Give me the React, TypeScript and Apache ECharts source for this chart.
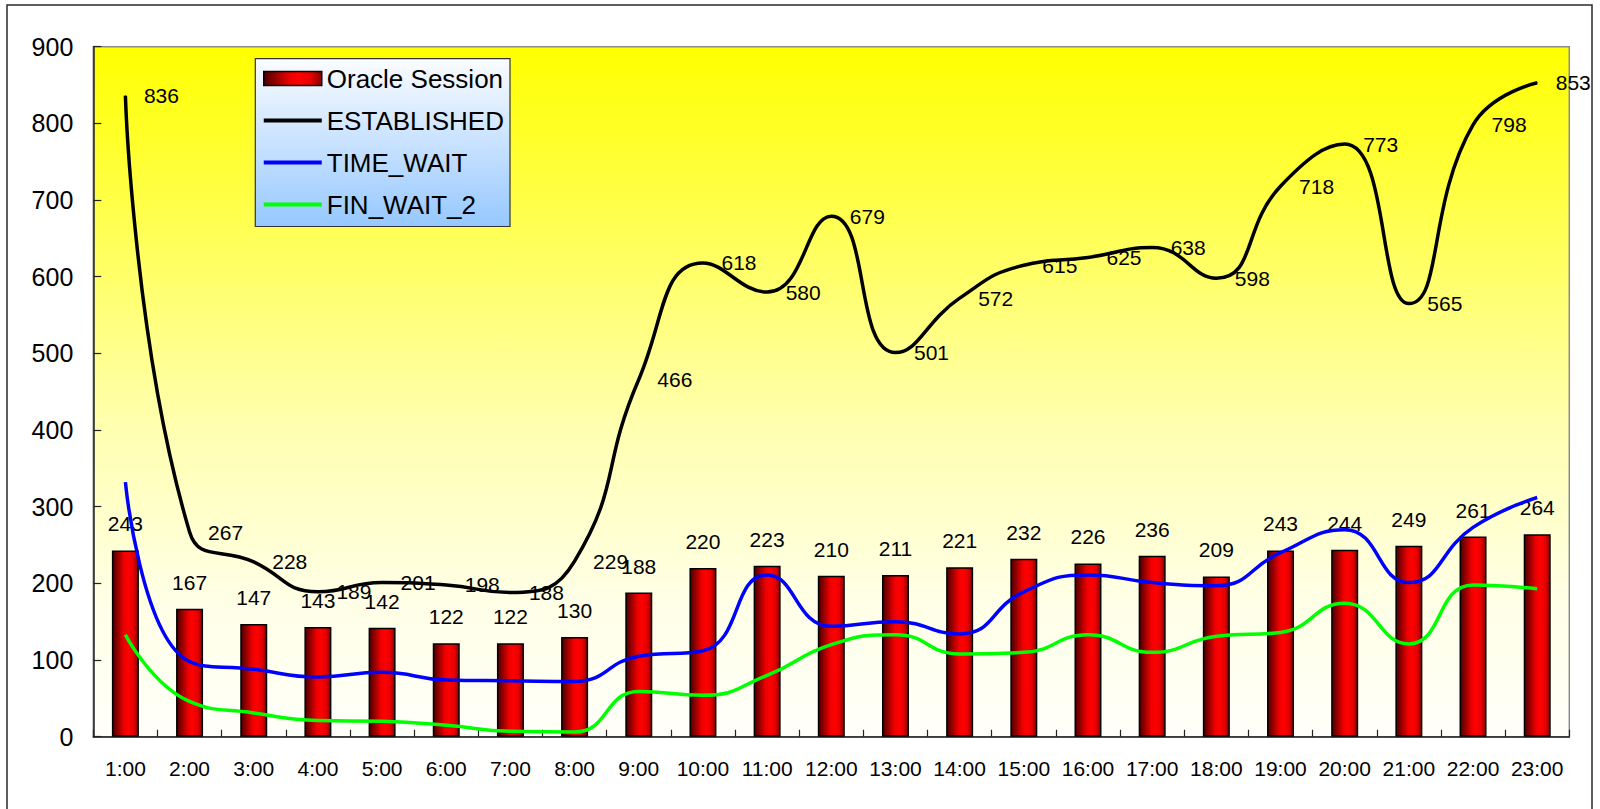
import React, { useEffect, useRef } from 'react';
import * as echarts from 'echarts';

// Hourly connection / session counts
const hours = [
  '1:00', '2:00', '3:00', '4:00', '5:00', '6:00', '7:00', '8:00', '9:00', '10:00', '11:00', '12:00',
  '13:00', '14:00', '15:00', '16:00', '17:00', '18:00', '19:00', '20:00', '21:00', '22:00', '23:00',
];
const oracleSession = [243, 167, 147, 143, 142, 122, 122, 130, 188, 220, 223, 210, 211, 221, 232, 226, 236, 209, 243, 244, 249, 261, 264];
const established = [836, 267, 228, 189, 201, 198, 188, 229, 466, 618, 580, 679, 501, 572, 615, 625, 638, 598, 718, 773, 565, 798, 853];
const timeWait = [332, 98, 88, 78, 84, 74, 73, 72, 105, 112, 211, 144, 150, 134, 189, 211, 201, 197, 240, 270, 201, 273, 312];
const finWait2 = [133, 46, 31, 21, 20, 15, 7, 6, 59, 54, 80, 120, 133, 108, 110, 133, 110, 131, 136, 174, 121, 198, 193];
const yTicks = { min: 0, max: 900, interval: 100 };

const FONT = 'Arial, "Liberation Sans", sans-serif';

export default function App() {
  const ref = useRef<HTMLDivElement>(null);

  useEffect(() => {
    if (!ref.current) return;
    const chart = echarts.init(ref.current, undefined, { renderer: 'svg' });

    const barFill = new echarts.graphic.LinearGradient(0, 0, 1, 0, [
      { offset: 0, color: '#4a0000' },
      { offset: 0.45, color: '#ee0000' },
      { offset: 0.62, color: '#ff0000' },
      { offset: 0.82, color: '#e60000' },
      { offset: 1, color: '#850000' },
    ]);
    const plotFill = new echarts.graphic.LinearGradient(0, 0, 0, 1, [
      { offset: 0, color: '#ffff00' },
      { offset: 0.3, color: '#ffff60' },
      { offset: 0.55, color: '#ffffb0' },
      { offset: 0.8, color: '#ffffe6' },
      { offset: 1, color: '#fffffa' },
    ]);
    const legendFill = new echarts.graphic.LinearGradient(0, 0, 0, 1, [
      { offset: 0, color: '#fbfcff' },
      { offset: 1, color: '#96c8ff' },
    ]);
    const lineIcon = 'path://M0,0H58V4H0Z';

    chart.setOption({
      animation: false,
      textStyle: { fontFamily: FONT, color: '#000' },
      grid: {
        left: 93.3,
        right: 30.7,
        top: 46.7,
        bottom: 72.3,
        show: true,
        backgroundColor: plotFill,
        borderColor: '#8a8a8a',
        borderWidth: 1.5,
      },
      graphic: [
        {
          type: 'rect',
          z: 0,
          shape: { x: 7, y: 5, width: 1585, height: 830 },
          style: { fill: 'none', stroke: '#2a2a2a', lineWidth: 1.5 },
          silent: true,
        },
        {
          type: 'rect',
          z: 3,
          shape: { x: 255.3, y: 58.7, width: 254.7, height: 167.8 },
          style: { fill: legendFill, stroke: '#333', lineWidth: 1.2 },
          silent: true,
        },
      ],
      legend: {
        orient: 'vertical',
        left: 263,
        top: 65.6,
        padding: 0,
        itemWidth: 58,
        itemHeight: 14,
        itemGap: 16,
        selectedMode: false,
        itemStyle: { borderWidth: 0 },
        textStyle: { fontFamily: FONT, fontSize: 26, lineHeight: 26, color: '#000' },
        data: [
          { name: 'Oracle Session', icon: 'rect', itemStyle: { borderColor: '#000', borderWidth: 1.5 } },
          { name: 'ESTABLISHED', icon: lineIcon },
          { name: 'TIME_WAIT', icon: lineIcon },
          { name: 'FIN_WAIT_2', icon: lineIcon },
        ],
      },
      xAxis: {
        type: 'category',
        data: hours,
        boundaryGap: true,
        axisLine: { show: true, lineStyle: { color: '#222', width: 1.5 } },
        axisTick: { show: true, inside: true, length: 7, lineStyle: { color: '#222', width: 1.2 } },
        axisLabel: { fontFamily: FONT, fontSize: 21, color: '#000', margin: 21, interval: 0 },
        splitLine: { show: false },
      },
      yAxis: {
        type: 'value',
        min: yTicks.min,
        max: yTicks.max,
        interval: yTicks.interval,
        axisLine: { show: true, lineStyle: { color: '#222', width: 1.5 } },
        axisTick: { show: true, inside: true, length: 8, lineStyle: { color: '#222', width: 1.2 } },
        axisLabel: { fontFamily: FONT, fontSize: 25, color: '#000', margin: 20 },
        splitLine: { show: false },
      },
      series: [
        {
          name: 'Oracle Session',
          type: 'bar',
          data: oracleSession,
          barWidth: 27,
          itemStyle: { color: barFill, borderColor: '#000', borderWidth: 1.5 },
          label: { show: true, position: 'top', distance: 16, fontFamily: FONT, fontSize: 21, color: '#000' },
          z: 2,
        },
        {
          name: 'ESTABLISHED',
          type: 'line',
          data: established,
          smooth: true,
          symbol: 'circle',
          symbolSize: 1,
          showSymbol: true,
          itemStyle: { color: '#000' },
          lineStyle: { color: '#000', width: 3.5 },
          label: { show: true, position: 'right', distance: 18, fontFamily: FONT, fontSize: 21, color: '#000' },
          z: 3,
        },
        {
          name: 'TIME_WAIT',
          type: 'line',
          data: timeWait,
          smooth: true,
          showSymbol: false,
          itemStyle: { color: '#0000ff' },
          lineStyle: { color: '#0000ff', width: 3.5 },
          z: 3,
        },
        {
          name: 'FIN_WAIT_2',
          type: 'line',
          data: finWait2,
          smooth: true,
          showSymbol: false,
          itemStyle: { color: '#00ff00' },
          lineStyle: { color: '#00ff00', width: 3.5 },
          z: 3,
        },
      ],
    });

    return () => chart.dispose();
  }, []);

  return (
    <div
      ref={ref}
      style={{ position: 'fixed', left: 0, top: 0, width: 1600, height: 809, background: '#fff' }}
    />
  );
}
